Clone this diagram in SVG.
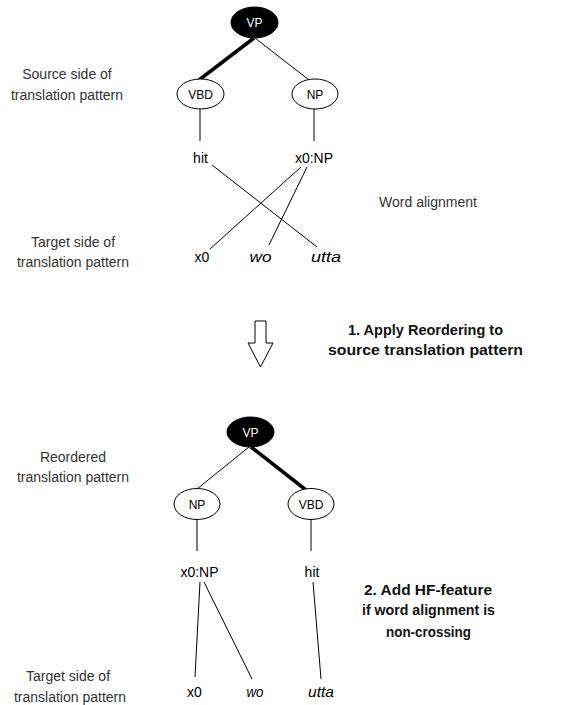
<svg xmlns="http://www.w3.org/2000/svg" width="576" height="705" viewBox="0 0 576 705">
<style>
.lbl{font-family:"Liberation Sans",Arial,sans-serif;font-size:14px;fill:#333;text-anchor:middle}
.bold{font-family:"Liberation Sans",Arial,sans-serif;font-size:15px;font-weight:bold;fill:#111;text-anchor:middle}
.word{font-family:"Liberation Sans",Arial,sans-serif;font-size:14px;fill:#000;text-anchor:middle}
.it{font-style:italic}
.nl{font-family:"Liberation Sans",Arial,sans-serif;font-size:12px;fill:#000;text-anchor:middle}
.nw{fill:#fff}
.ell{fill:#fff;stroke:#000;stroke-width:1}
.blk{fill:#000;stroke:#000}
.thin{stroke:#000;stroke-width:1;fill:none}
.thick{stroke:#000;stroke-width:3.5;fill:none}
</style>
<rect width="576" height="705" fill="#fff"/>
<g id="labels">
<text class="lbl" x="67" y="79">Source side of</text>
<text class="lbl" x="67" y="100">translation pattern</text>
<text class="lbl" x="428" y="207">Word alignment</text>
<text class="lbl" x="73" y="247">Target side of</text>
<text class="lbl" x="73" y="267">translation pattern</text>
<text class="bold" x="425.5" y="335" textLength="155" lengthAdjust="spacingAndGlyphs">1. Apply Reordering to</text>
<text class="bold" x="425.5" y="355" textLength="195" lengthAdjust="spacingAndGlyphs">source translation pattern</text>
<text class="lbl" x="73" y="462">Reordered</text>
<text class="lbl" x="73" y="482">translation pattern</text>
<text class="bold" x="428" y="595" textLength="128" lengthAdjust="spacingAndGlyphs">2. Add HF-feature</text>
<text class="bold" x="428.5" y="615" textLength="133" lengthAdjust="spacingAndGlyphs">if word alignment is</text>
<text class="bold" x="428.5" y="637" textLength="85" lengthAdjust="spacingAndGlyphs">non-crossing</text>
<text class="lbl" x="68" y="681">Target side of</text>
<text class="lbl" x="70" y="702">translation pattern</text>
</g>
<g id="connectors">
<line class="thick" x1="254" y1="38" x2="199" y2="80"/>
<line class="thin" x1="255" y1="38" x2="309" y2="80"/>
<line class="thin" x1="200" y1="109" x2="200" y2="141"/>
<line class="thin" x1="314" y1="109" x2="314" y2="141"/>
<line class="thin" x1="212" y1="165" x2="317" y2="247"/>
<line class="thin" x1="301" y1="167" x2="210" y2="249"/>
<line class="thin" x1="307" y1="167" x2="269" y2="245"/>
<line class="thin" x1="249" y1="447" x2="197" y2="489"/>
<line class="thick" x1="251" y1="447" x2="306" y2="490"/>
<line class="thin" x1="197" y1="519" x2="197" y2="551"/>
<line class="thin" x1="311" y1="519" x2="311" y2="551"/>
<line class="thin" x1="200" y1="582" x2="195" y2="677"/>
<line class="thin" x1="204" y1="582" x2="252" y2="679"/>
<line class="thin" x1="313" y1="582" x2="321" y2="679"/>
</g>
<g id="arrow">
<polygon points="255,321 266,321 266,343 273,343 260.5,367 248,343 255,343" fill="#fff" stroke="#000" stroke-width="1"/>
</g>
<g id="src-vp"><ellipse class="blk" cx="254.5" cy="22.5" rx="23.5" ry="15.5"/><text class="nl nw" x="254.5" y="27">VP</text></g>
<g id="src-vbd"><ellipse class="ell" cx="200.5" cy="94" rx="23.5" ry="15"/><text class="nl" x="200.5" y="98.5">VBD</text></g>
<g id="src-np"><ellipse class="ell" cx="315" cy="94" rx="23" ry="15"/><text class="nl" x="315" y="98.5">NP</text></g>
<g id="src-hit"><text class="word" x="200.5" y="163">hit</text></g>
<g id="src-x0np"><text class="word" x="314" y="163">x0:NP</text></g>
<g id="tgt-x0"><text class="word" x="202" y="262">x0</text></g>
<g id="tgt-wo"><text class="word it" x="260.5" y="262" textLength="22" lengthAdjust="spacingAndGlyphs">wo</text></g>
<g id="tgt-utta"><text class="word it" x="326" y="262" textLength="30" lengthAdjust="spacingAndGlyphs">utta</text></g>
<g id="re-vp"><ellipse class="blk" cx="250.5" cy="432" rx="23.5" ry="15"/><text class="nl nw" x="250.5" y="436.5">VP</text></g>
<g id="re-np"><ellipse class="ell" cx="197" cy="504" rx="23" ry="15.5"/><text class="nl" x="197" y="508.5">NP</text></g>
<g id="re-vbd"><ellipse class="ell" cx="311" cy="504" rx="23" ry="15.5"/><text class="nl" x="311" y="508.5">VBD</text></g>
<g id="re-x0np"><text class="word" x="199.5" y="577">x0:NP</text></g>
<g id="re-hit"><text class="word" x="312" y="577">hit</text></g>
<g id="re-x0"><text class="word" x="194.5" y="697">x0</text></g>
<g id="re-wo"><text class="word it" x="255" y="697" textLength="17" lengthAdjust="spacingAndGlyphs">wo</text></g>
<g id="re-utta"><text class="word it" x="321" y="697" textLength="26" lengthAdjust="spacingAndGlyphs">utta</text></g>
</svg>
